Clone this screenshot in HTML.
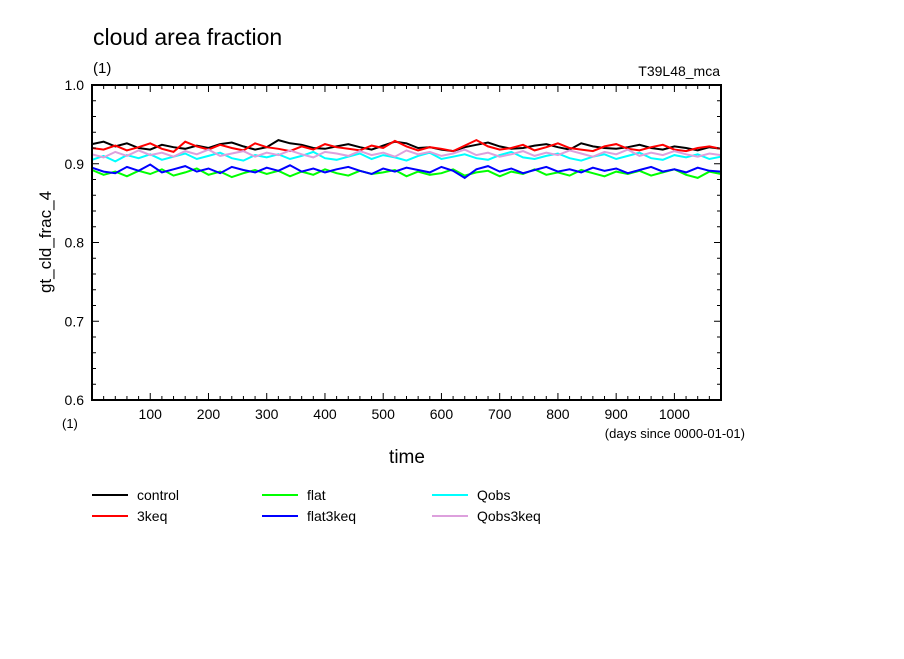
<!DOCTYPE html>
<html><head><meta charset="utf-8"><style>
body{margin:0;background:#fff;}
svg text{font-family:"Liberation Sans",sans-serif;fill:#000;}
</style></head><body>
<svg id="c" width="904" height="654" xmlns="http://www.w3.org/2000/svg">
<rect width="904" height="654" fill="#fff"/>
<text x="93" y="45" font-size="23">cloud area fraction</text>
<text x="93" y="73" font-size="15">(1)</text>
<text x="720" y="76" font-size="14" text-anchor="end">T39L48_mca</text>
<g id="plot"></g>
<text x="62" y="428" font-size="13">(1)</text>
<text x="745" y="438" font-size="13" text-anchor="end">(days since 0000-01-01)</text>
<text x="407" y="463" font-size="19" text-anchor="middle">time</text>
<text transform="translate(51,242) rotate(-90)" font-size="17" text-anchor="middle">gt_cld_frac_4</text>
<g id="legend"></g>
</svg>
<script>
const days=[];for(let d=0;d<=1080;d+=20)days.push(d);
const control=[0.925,0.928,0.922,0.926,0.920,0.918,0.924,0.921,0.919,0.923,0.920,0.925,0.927,0.922,0.918,0.921,0.930,0.926,0.924,0.920,0.919,0.922,0.925,0.921,0.918,0.923,0.928,0.926,0.920,0.921,0.918,0.916,0.921,0.924,0.927,0.922,0.919,0.920,0.923,0.925,0.921,0.918,0.926,0.922,0.920,0.919,0.921,0.924,0.920,0.918,0.922,0.920,0.917,0.921,0.919];
const keq3=[0.920,0.918,0.923,0.917,0.921,0.926,0.919,0.915,0.928,0.922,0.918,0.924,0.920,0.917,0.926,0.921,0.919,0.916,0.922,0.918,0.925,0.921,0.919,0.917,0.923,0.920,0.929,0.922,0.917,0.921,0.919,0.916,0.923,0.930,0.922,0.918,0.920,0.924,0.917,0.921,0.926,0.920,0.918,0.916,0.922,0.925,0.919,0.917,0.921,0.924,0.918,0.916,0.920,0.922,0.919];
const flat=[0.892,0.886,0.890,0.884,0.891,0.887,0.893,0.885,0.889,0.894,0.886,0.890,0.883,0.888,0.892,0.887,0.891,0.884,0.890,0.886,0.893,0.888,0.885,0.891,0.887,0.889,0.892,0.884,0.890,0.886,0.888,0.893,0.885,0.889,0.891,0.884,0.890,0.887,0.893,0.886,0.889,0.885,0.892,0.888,0.884,0.890,0.887,0.891,0.885,0.889,0.893,0.886,0.882,0.890,0.887];
const flat3keq=[0.895,0.890,0.888,0.896,0.891,0.899,0.889,0.893,0.897,0.890,0.894,0.888,0.896,0.892,0.889,0.895,0.891,0.898,0.890,0.894,0.889,0.893,0.896,0.891,0.887,0.894,0.890,0.895,0.892,0.889,0.896,0.891,0.882,0.893,0.897,0.890,0.894,0.888,0.892,0.896,0.890,0.893,0.889,0.895,0.891,0.894,0.888,0.892,0.896,0.890,0.893,0.889,0.895,0.891,0.890];
const qobs=[0.905,0.910,0.903,0.911,0.907,0.912,0.905,0.909,0.913,0.906,0.910,0.914,0.907,0.904,0.911,0.908,0.912,0.906,0.910,0.915,0.907,0.905,0.909,0.913,0.906,0.911,0.908,0.904,0.910,0.914,0.906,0.909,0.912,0.907,0.905,0.911,0.915,0.908,0.906,0.910,0.913,0.907,0.904,0.909,0.912,0.906,0.910,0.914,0.907,0.905,0.911,0.908,0.912,0.906,0.909];
const qobs3keq=[0.912,0.908,0.915,0.910,0.917,0.911,0.914,0.909,0.916,0.912,0.918,0.910,0.913,0.916,0.909,0.914,0.911,0.917,0.912,0.908,0.915,0.913,0.910,0.916,0.911,0.914,0.909,0.917,0.912,0.915,0.910,0.913,0.918,0.911,0.914,0.909,0.912,0.916,0.910,0.914,0.911,0.917,0.913,0.909,0.915,0.912,0.918,0.910,0.914,0.911,0.916,0.912,0.909,0.913,0.911];
const xTicks=[100,200,300,400,500,600,700,800,900,1000];
const yTicks=[0.6,0.7,0.8,0.9,1.0];
const seriesNames=["control","3keq","flat","flat3keq","Qobs","Qobs3keq"];
const seriesColors=["#000000","#ff0000","#00ff00","#0000ff","#00ffff","#dda0dd"];
const seriesData=[control,keq3,flat,flat3keq,qobs,qobs3keq];

const X0=92,X1=721,Y0=400,Y1=85;
const sx=d=>X0+(d-0)/(1080-0)*(X1-X0);
const sy=v=>Y0-(v-0.6)/(1.0-0.6)*(Y0-Y1);
const NS="http://www.w3.org/2000/svg";
const plot=document.getElementById('plot');
function mk(t,a,p){const e=document.createElementNS(NS,t);for(const k in a)e.setAttribute(k,a[k]);(p||plot).appendChild(e);return e;}

[0,2,1,3,4,5].forEach(i=>{
  const pts=seriesData[i].map((v,j)=>sx(days[j]).toFixed(1)+','+sy(v).toFixed(1)).join(' ');
  const l=mk('polyline',{points:pts,fill:'none',stroke:seriesColors[i],'stroke-width':2});
  
  
});
const fr=mk('rect',{x:X0,y:Y1,width:X1-X0,height:Y0-Y1,fill:'none',stroke:'#000','stroke-width':2});


for(let d=20;d<1080;d+=20){const maj=d%100===0;const L=maj?7:4;
  mk('line',{x1:sx(d),x2:sx(d),y1:Y0,y2:Y0-L,stroke:'#000','stroke-width':1});
  mk('line',{x1:sx(d),x2:sx(d),y1:Y1,y2:Y1+L,stroke:'#000','stroke-width':1});}
for(let k=1;k<20;k++){const v=0.6+k*0.02;const maj=k%5===0;const L=maj?7:4;
  mk('line',{x1:X0,x2:X0+L,y1:sy(v),y2:sy(v),stroke:'#000','stroke-width':1});
  mk('line',{x1:X1,x2:X1-L,y1:sy(v),y2:sy(v),stroke:'#000','stroke-width':1});}
xTicks.forEach(t=>{const e=mk('text',{x:sx(t),y:419,'font-size':14,'text-anchor':'middle'});e.textContent=t;
  
  });
yTicks.forEach(t=>{const e=mk('text',{x:84,y:sy(t)+5,'font-size':14,'text-anchor':'end'});e.textContent=t.toFixed(1);
  
  });
const lg=document.getElementById('legend');
const lx=[92,262,432],ly=[495,516];
const order=[0,1,2,3,4,5];
order.forEach((si,k)=>{const col=Math.floor(k/2),row=k%2;
  const g=mk('g',{},lg);
  
  
  mk('line',{x1:lx[col],x2:lx[col]+36,y1:ly[row],y2:ly[row],stroke:seriesColors[si],'stroke-width':2},g);
  const t=mk('text',{x:lx[col]+45,y:ly[row]+5,'font-size':14},g);t.textContent=seriesNames[si];});
</script>
</body></html>
